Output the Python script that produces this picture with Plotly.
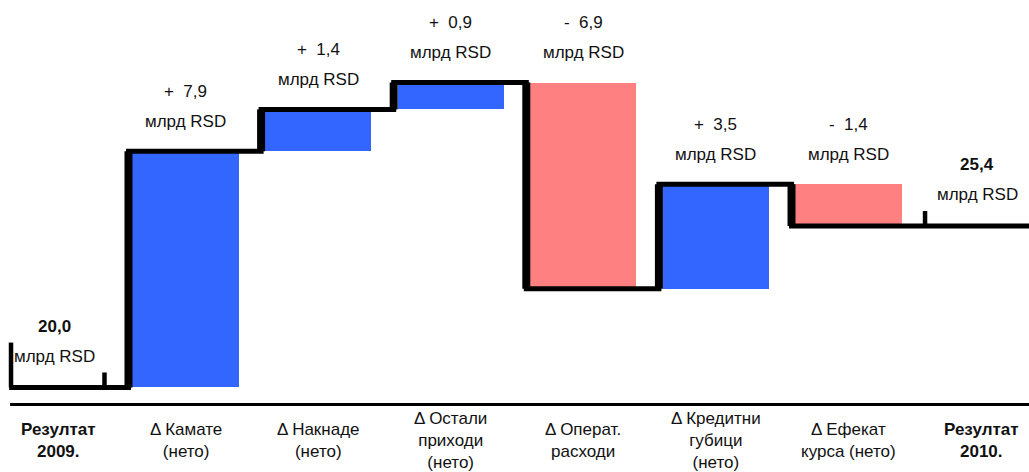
import plotly.graph_objects as go

# ---- data ----
categories = ["<b>Резултат</b><br><b>2009.</b>", "Δ Камате<br>(нето)", "Δ Накнаде<br>(нето)",
              "Δ Остали<br>приходи<br>(нето)", "Δ Операт.<br>расходи", "Δ Кредитни<br>губици<br>(нето)",
              "Δ Ефекат<br>курса (нето)", "<b>Резултат</b><br><b>2010.</b>"]
start_value = 20.0
deltas = [7.9, 1.4, 0.9, -6.9, 3.5, -1.4]
end_value = 25.4
delta_labels = ["+\u00a0\u00a07,9", "+\u00a0\u00a01,4", "+\u00a0\u00a00,9", "-\u00a0\u00a06,9",
                "+\u00a0\u00a03,5", "-\u00a0\u00a01,4"]
start_label = "20,0"
end_label = "25,4"
unit = "млрд RSD"

BLUE = "#3366FF"
RED = "#FF8080"
FONT = "Arial, Liberation Sans, sans-serif"
TXT = "#111111"

# cumulative levels
levels = [start_value]
for d in deltas:
    levels.append(round(levels[-1] + d, 4))

fig = go.Figure()

# bars
xs = list(range(1, len(deltas) + 1))
bases = [min(levels[i], levels[i + 1]) for i in range(len(deltas))]
heights = [abs(d) for d in deltas]
colors = [BLUE if d > 0 else RED for d in deltas]
fig.add_trace(go.Bar(x=xs, y=heights, base=bases, width=0.8, marker=dict(color=colors, line=dict(width=0)),
                     hoverinfo="skip", showlegend=False))

# step line
off = 0.43
hx, hy = [-0.33], [levels[0]]
vx, vy = [], []
for i in range(1, len(levels)):
    xv = i - off
    hx += [xv, xv]
    hy += [levels[i - 1], levels[i]]
    vx += [xv, xv, None]
    vy += [levels[i - 1], levels[i], None]
hx.append(7.6)
hy.append(levels[-1])
fig.add_trace(go.Scatter(x=hx, y=hy, mode="lines", line=dict(color="black", width=5),
                         hoverinfo="skip", showlegend=False))
fig.add_trace(go.Scatter(x=vx, y=vy, mode="lines", line=dict(color="black", width=8),
                         hoverinfo="skip", showlegend=False))
# small ticks
tx = [-0.316, -0.316, None, 0.389, 0.389, None, 6.577, 6.577]
ty = [levels[0], levels[0] + 1.5, None, levels[0], levels[0] + 0.5, None, levels[-1], levels[-1] + 0.5]
fig.add_trace(go.Scatter(x=tx, y=ty, mode="lines", line=dict(color="black", width=4.5),
                         hoverinfo="skip", showlegend=False))

ann = []
fs = 17
# value labels above deltas
for i, d in enumerate(deltas):
    top = max(levels[i], levels[i + 1])
    ann.append(dict(x=i + 1, y=top, yshift=60, text=delta_labels[i], showarrow=False,
                    font=dict(size=fs, family=FONT, color=TXT), yanchor="middle"))
    ann.append(dict(x=i + 1, y=top, yshift=30, text=unit, showarrow=False,
                    font=dict(size=fs, family=FONT, color=TXT), yanchor="middle"))
# start/end labels
for xx, lv, lab, xs_ in [(0, levels[0], start_label, 2), (7, levels[-1], end_label, -4)]:
    ann.append(dict(x=xx, y=lv, yshift=61, xshift=xs_, text="<b>" + lab + "</b>", showarrow=False,
                    font=dict(size=fs, family=FONT, color=TXT), yanchor="middle"))
    ann.append(dict(x=xx, y=lv, yshift=31, xshift=xs_, text=unit, showarrow=False,
                    font=dict(size=fs, family=FONT, color=TXT), yanchor="middle"))
# category labels
for i, c in enumerate(categories):
    ann.append(dict(x=i, y=1 - 440 / 472, yref="paper", text=c, showarrow=False,
                    xshift=6 if i == 0 else 0,
                    font=dict(size=fs, family=FONT, color=TXT), yanchor="middle", align="center"))

fig.update_layout(
    width=1029, height=472,
    margin=dict(l=0, r=0, t=0, b=0),
    plot_bgcolor="white", paper_bgcolor="white",
    xaxis=dict(range=[-0.399, 7.361], visible=False, fixedrange=True),
    yaxis=dict(range=[17.17, 32.96], visible=False, fixedrange=True),
    annotations=ann,
    bargap=0,
    shapes=[dict(type="line", xref="x", yref="paper", x0=-0.323, x1=7.6,
                 y0=1 - 404.5 / 472, y1=1 - 404.5 / 472, line=dict(color="black", width=3))],
)

fig.write_html("out.html", config={"displayModeBar": False},
               post_script="document.body.style.margin='0';document.body.style.overflow='hidden';")
